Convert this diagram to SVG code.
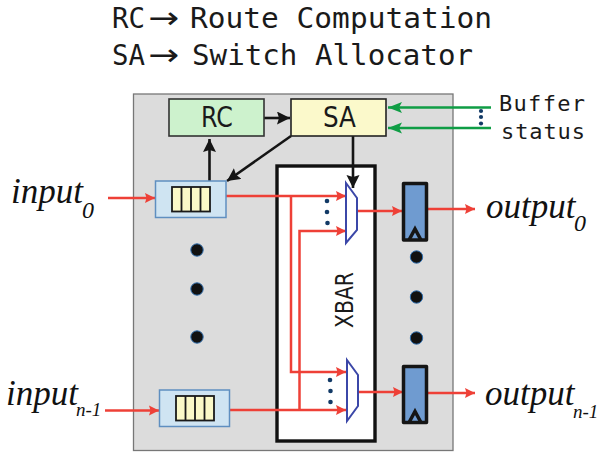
<svg xmlns="http://www.w3.org/2000/svg" width="599" height="452" viewBox="0 0 599 452">
<style>
.hd{font-family:"DejaVu Sans Mono",monospace;font-size:28px;fill:#1a1a1a}
.st{font-family:"DejaVu Sans Mono",monospace;font-size:22px;fill:#1a1a1a}
.lb{font-family:"DejaVu Sans",sans-serif;font-size:29px;fill:#1a1a1a}
.it{font-family:"Liberation Serif",serif;font-style:italic;fill:#111}
.m{font-size:35px}.s{font-size:24px}.n{font-size:19px}
.red{fill:none;stroke:#ee4037;stroke-width:2.5}
.blk{fill:none;stroke:#151515;stroke-width:2.6}
.grn{fill:none;stroke:#0f9d45;stroke-width:2.6}
.buf{fill:#cfe4f2;stroke:#5f8fc0;stroke-width:1.5}
.cell{fill:#fbf9c8;stroke:#1a1a1a;stroke-width:1.8}
.mux{fill:#fff;stroke:#3b47a8;stroke-width:2}
.reg{fill:#6f9bd0;stroke:#151515;stroke-width:3.5;stroke-linejoin:round}
.big{fill:#111;stroke:#2f6fb0;stroke-width:1}
.sm{fill:#123a66}
</style>
<defs>
<marker id="r" markerUnits="userSpaceOnUse" markerWidth="12" markerHeight="14" refX="10" refY="6" orient="auto"><path d="M0 1L10 6L0 11L1.500 6Z" fill="#ee4037"/></marker>
<marker id="k" markerUnits="userSpaceOnUse" markerWidth="15" markerHeight="14" refX="13" refY="6.500" orient="auto"><path d="M0 0L13 6.500L0 13L2 6.500Z" fill="#151515"/></marker>
<marker id="g" markerUnits="userSpaceOnUse" markerWidth="15" markerHeight="12" refX="14" refY="5.500" orient="auto"><path d="M0 0L14 5.500L0 11L3 5.500Z" fill="#0f9d45"/></marker>
</defs>
<rect width="599" height="452" fill="#fff"/>
<g id="legend">
<text class="hd" x="112" y="28" textLength="33" lengthAdjust="spacingAndGlyphs">RC</text>
<text x="148" y="28" font-family="DejaVu Sans,sans-serif" font-size="30" fill="#1a1a1a" textLength="31" lengthAdjust="spacingAndGlyphs">→</text>
<text class="hd" x="190" y="28" textLength="302" lengthAdjust="spacingAndGlyphs">Route Computation</text>
<text class="hd" x="112" y="65" textLength="33" lengthAdjust="spacingAndGlyphs">SA</text>
<text x="148" y="65" font-family="DejaVu Sans,sans-serif" font-size="30" fill="#1a1a1a" textLength="31" lengthAdjust="spacingAndGlyphs">→</text>
<text class="hd" x="192" y="65" textLength="281" lengthAdjust="spacingAndGlyphs">Switch Allocator</text>
</g>
<g id="router"><rect x="133.500" y="94" width="319.500" height="356.500" fill="#dcdcdc" stroke="#777" stroke-width="1.300"/></g>
<g id="xbar"><rect x="277" y="166" width="98" height="275" fill="#fff" stroke="#111" stroke-width="3.400"/>
<text transform="translate(353 328) rotate(-90)" font-family="DejaVu Sans,sans-serif" font-size="24" fill="#1a1a1a" textLength="56" lengthAdjust="spacingAndGlyphs">XBAR</text></g>
<g id="connectors">
<path class="red" d="M108 198H155" marker-end="url(#r)"/>
<path class="red" d="M226 196H346" marker-end="url(#r)"/>
<path class="red" d="M291 196V372H346" marker-end="url(#r)"/>
<path class="red" d="M299.500 410V231H346" marker-end="url(#r)"/>
<path class="red" d="M105 410.500H159" marker-end="url(#r)"/>
<path class="red" d="M230 410H346" marker-end="url(#r)"/>
<path class="red" d="M357 211H402" marker-end="url(#r)"/>
<path class="red" d="M358 392H403" marker-end="url(#r)"/>
<path class="red" d="M428 209H475" marker-end="url(#r)"/>
<path class="red" d="M428 393H475" marker-end="url(#r)"/>
<path class="blk" d="M264 118H290" marker-end="url(#k)"/>
<path class="blk" d="M209.500 181V139" marker-end="url(#k)"/>
<path class="blk" d="M291 136L227 181" marker-end="url(#k)"/>
<path class="blk" d="M353 136V188" marker-end="url(#k)"/>
<path class="grn" d="M491 107.500H388" marker-end="url(#g)"/>
<path class="grn" d="M491 128H388" marker-end="url(#g)"/>
</g>
<g id="rc"><rect x="169" y="99" width="95" height="37" fill="#cdf2cd" stroke="#333" stroke-width="1.600"/><text class="lb" x="201" y="127" textLength="32" lengthAdjust="spacingAndGlyphs">RC</text></g>
<g id="sa"><rect x="291" y="99" width="95" height="37" fill="#fbf9cb" stroke="#222" stroke-width="1.600"/><text class="lb" x="323" y="127" textLength="33" lengthAdjust="spacingAndGlyphs">SA</text></g>
<g id="input0"><rect class="buf" x="155.500" y="181" width="70.500" height="36.500"/><rect class="cell" x="172" y="187" width="38" height="24.500"/><path class="cell" d="M181.500 187V211.500M191 187V211.500M200.500 187V211.500"/></g>
<g id="input1"><rect class="buf" x="159.500" y="390" width="70" height="36.500"/><rect class="cell" x="176" y="396" width="38" height="24.500"/><path class="cell" d="M185.500 396V420.500M195 396V420.500M204.500 396V420.500"/></g>
<g id="mux0"><path class="mux" d="M346 183L357 198V230L346 243Z"/></g>
<g id="mux1"><path class="mux" d="M347 360L358 375V406L347 421Z"/></g>
<g id="output0"><rect class="reg" x="403.500" y="183.500" width="23" height="56.500"/><path d="M409 240L415 229L421 240" fill="none" stroke="#151515" stroke-width="3.500"/></g>
<g id="output1"><rect class="reg" x="403.500" y="366.500" width="23" height="56"/><path d="M409 422.500L415 411.500L421 422.500" fill="none" stroke="#151515" stroke-width="3.500"/></g>
<g id="dots">
<circle class="big" cx="197" cy="250" r="6.200"/><circle class="big" cx="197" cy="289" r="6.200"/><circle class="big" cx="197" cy="337" r="6.200"/>
<circle class="big" cx="416.500" cy="257" r="6.200"/><circle class="big" cx="416.500" cy="297" r="6.200"/><circle class="big" cx="416.500" cy="338" r="6.200"/>
<circle class="sm" cx="327" cy="201" r="2.300"/><circle class="sm" cx="327" cy="212" r="2.300"/><circle class="sm" cx="327.500" cy="223" r="2.300"/>
<circle class="sm" cx="330" cy="380" r="2.300"/><circle class="sm" cx="330.500" cy="391" r="2.300"/><circle class="sm" cx="330.500" cy="402" r="2.300"/>
<circle class="sm" cx="481" cy="111" r="2.100"/><circle class="sm" cx="481" cy="117" r="2.100"/><circle class="sm" cx="481" cy="123.500" r="2.100"/>
</g>
<g id="buffer-status"><text class="st" x="499" y="111" textLength="86" lengthAdjust="spacing">Buffer</text><text class="st" x="501" y="139" textLength="84" lengthAdjust="spacing">status</text></g>
<g id="labels">
<text class="it m" x="11" y="203">input</text><text class="it s" x="82" y="218">0</text>
<text class="it m" x="6" y="405">input</text><text class="it n" x="76" y="416">n-1</text>
<text class="it m" x="486" y="218">output</text><text class="it s" x="574" y="231">0</text>
<text class="it m" x="485" y="405">output</text><text class="it n" x="573" y="418">n-1</text>
</g>
</svg>
